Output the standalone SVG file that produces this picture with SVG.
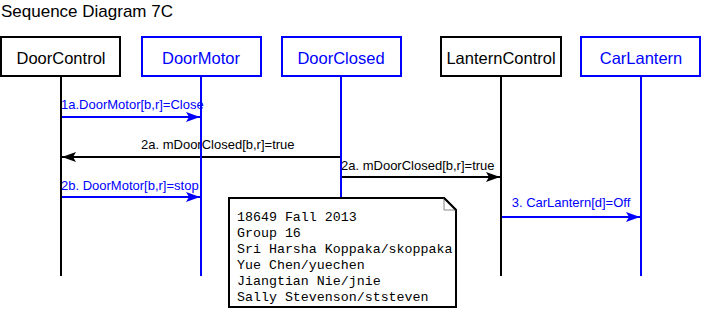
<svg xmlns="http://www.w3.org/2000/svg" width="701" height="313" viewBox="0 0 701 313">
  <style>
    .title { font-family: "Liberation Sans", Arial, sans-serif; font-size: 17px; fill: #000; }
    .box { fill: #fff; stroke-width: 2; }
    .blk { stroke: #000; }
    .blu { stroke: #0000ff; }
    .name { font-family: "Liberation Sans", Arial, sans-serif; font-size: 16.5px; text-anchor: middle; }
    .life { stroke-width: 2; fill: none; }
    .msg { stroke-width: 2; fill: none; }
    .lbl { font-family: "Liberation Sans", Arial, sans-serif; font-size: 13px; }
    .tb { fill: #000; }
    .tu { fill: #0000ff; }
    .note { fill: #fff; stroke: #000; stroke-width: 2; }
    .fold { fill: #fff; stroke: #888; stroke-width: 1; }
    .mono { font-family: "Liberation Mono", "Courier New", monospace; font-size: 13.3px; fill: #000; }
  </style>
  <defs>
    <marker id="headBlack" markerUnits="userSpaceOnUse" markerWidth="16" markerHeight="12" viewBox="-15 -6 16 12" refX="0" refY="0" orient="auto">
      <path d="M0,0 L-14,-5 L-11,0 L-14,5 Z" fill="#000"/>
    </marker>
    <marker id="headBlue" markerUnits="userSpaceOnUse" markerWidth="16" markerHeight="12" viewBox="-15 -6 16 12" refX="0" refY="0" orient="auto">
      <path d="M0,0 L-14,-5 L-11,0 L-14,5 Z" fill="#0000ff"/>
    </marker>
  </defs>

  <text class="title" x="1" y="17">Sequence Diagram 7C</text>

  <!-- messages -->
  <g id="connectors">
    <line class="msg blu" x1="61" y1="117" x2="200" y2="117" marker-end="url(#headBlue)"/>
    <text class="lbl tu" x="61" y="109">1a.DoorMotor[b,r]=Close</text>

    <line class="msg blk" x1="341" y1="157" x2="62" y2="157" marker-end="url(#headBlack)"/>
    <text class="lbl tb" x="141" y="149">2a. mDoorClosed[b,r]=true</text>

    <line class="msg blk" x1="341" y1="177" x2="500" y2="177" marker-end="url(#headBlack)"/>
    <text class="lbl tb" x="341" y="170">2a. mDoorClosed[b,r]=true</text>

    <line class="msg blu" x1="61" y1="197" x2="200" y2="197" marker-end="url(#headBlue)"/>
    <text class="lbl tu" x="61" y="190">2b. DoorMotor[b,r]=stop</text>

    <line class="msg blu" x1="501" y1="217" x2="640" y2="217" marker-end="url(#headBlue)"/>
    <text class="lbl tu" x="571" y="207" text-anchor="middle">3. CarLantern[d]=Off</text>
  </g>

  <!-- participants with lifelines -->
  <g id="DoorControl">
    <line class="life blk" x1="61" y1="77" x2="61" y2="276"/>
    <rect class="box blk" x="1" y="37" width="119" height="39"/>
    <text class="name tb" x="61" y="64">DoorControl</text>
  </g>
  <g id="DoorMotor">
    <line class="life blu" x1="201" y1="77" x2="201" y2="276"/>
    <rect class="box blu" x="142" y="37" width="119" height="39"/>
    <text class="name tu" x="201" y="64">DoorMotor</text>
  </g>
  <g id="DoorClosed">
    <line class="life blu" x1="341" y1="77" x2="341" y2="276"/>
    <rect class="box blu" x="282" y="37" width="119" height="39"/>
    <text class="name tu" x="341" y="64">DoorClosed</text>
  </g>
  <g id="LanternControl">
    <line class="life blk" x1="501" y1="77" x2="501" y2="276"/>
    <rect class="box blk" x="441" y="37" width="120" height="39"/>
    <text class="name tb" x="501" y="64">LanternControl</text>
  </g>
  <g id="CarLantern">
    <line class="life blu" x1="641" y1="77" x2="641" y2="276"/>
    <rect class="box blu" x="581" y="37" width="119" height="39"/>
    <text class="name tu" x="641" y="64">CarLantern</text>
  </g>

  <!-- credits note -->
  <g id="note">
    <path class="note" d="M229,198 L444,198 L456,210 L456,307 L229,307 Z"/>
    <path class="fold" d="M444,198 L444,210 L456,210"/>
    <line x1="444" y1="198" x2="456" y2="210" stroke="#000" stroke-width="2"/>
    <text class="mono" x="237" y="221">18649 Fall 2013</text>
    <text class="mono" x="237" y="237">Group 16</text>
    <text class="mono" x="237" y="253">Sri Harsha Koppaka/skoppaka</text>
    <text class="mono" x="237" y="269">Yue Chen/yuechen</text>
    <text class="mono" x="237" y="285">Jiangtian Nie/jnie</text>
    <text class="mono" x="237" y="301">Sally Stevenson/ststeven</text>
  </g>
</svg>
